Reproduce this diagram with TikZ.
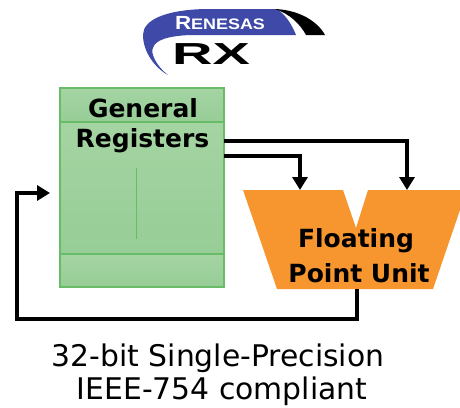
\documentclass[tikz,border=0pt]{standalone}
\usepackage{fontspec}
\setmainfont{DejaVu Sans}
\newfontfamily\logofont{Liberation Sans}
\usetikzlibrary{arrows.meta}
\definecolor{gfill}{HTML}{97CD97}
\definecolor{gfilltop}{HTML}{A4D4A2}
\definecolor{gline}{HTML}{68BC68}
\definecolor{fpu}{HTML}{F7962F}
\definecolor{rblue}{HTML}{3F4AA8}
\tikzset{
  link/.style={line width=4pt,line join=miter,-{Triangle[length=13pt,width=15pt]}},
  blocktext/.style={font=\fontsize{25}{30}\selectfont\bfseries,align=center,text=black},
  caption/.style={font=\fontsize{29.8}{34}\selectfont,align=center,text=black},
  cell/.style={draw=gline,line width=1.2pt,top color=gfilltop,bottom color=gfill},
}
\begin{document}
\begin{tikzpicture}[x=1pt,y=-1pt,every node/.style={inner sep=0pt,outer sep=0pt}]
\useasboundingbox (0,0) rectangle (460,407);
% logo
\fill[rblue] (277,9) -- (205,9) .. controls (165,10) and (143,20) .. (143,35)
  .. controls (143,52) and (155,68) .. (168,75)
  .. controls (156,66) and (150,52) .. (153,48)
  .. controls (155,40) and (168,36) .. (190,35) -- (296,35)
  .. controls (292,25) and (286,15) .. (277,9) -- cycle;
\fill[black] (275,9) .. controls (300,10) and (318,22) .. (325,35) -- (306,35)
  .. controls (300,24) and (290,14) .. (275,9) -- cycle;
\node[text=white,font=\logofont\bfseries\fontsize{20}{20}\selectfont] (renesas) at (220,23) {\scalebox{1.12}[0.95]{R\fontsize{16}{16}\selectfont ENESAS}};
\node[text=black,font=\logofont\bfseries\fontsize{32}{32}\selectfont] (rx) at (211,54) {\scalebox{1.75}[0.95]{RX}};
% registers
\fill[gfill] (60,88) rectangle (224,287);
\path[cell] (60,122) rectangle (224,254);
\path[cell] (60,88) rectangle (224,122);
\path[cell] (60,254) rectangle (224,287);
\draw[gline,line width=1pt] (136,168) -- (136,239);
\node[blocktext] (general) at (143,108) {General};
\node[blocktext] (registers) at (142.5,141) {Registers};
% FPU
\fill[fpu] (243,190) -- (343,190) -- (356,228) -- (368,190) -- (460,190) -- (460,210) -- (433,289) -- (277,289) -- cycle;
\node[blocktext] (floating) at (356,241) {Floating};
\node[blocktext] (pointunit) at (359,273) {Point Unit};
% connectors
\coordinate (out1) at (224,141);
\coordinate (out2) at (224,156);
\coordinate (in1) at (407,190);
\coordinate (in2) at (300,190);
\coordinate (fpuout) at (357,289);
\coordinate (regin) at (50,193);
\draw[link] (out1) -| (in1);
\draw[link] (out2) -| (in2);
\draw[link] (fpuout) |- (17,319) |- (regin);
% caption
\node[caption] (cap1) at (218,358) {32-bit Single-Precision};
\node[caption] (cap2) at (222,391) {IEEE-754 compliant};
\end{tikzpicture}
\end{document}
